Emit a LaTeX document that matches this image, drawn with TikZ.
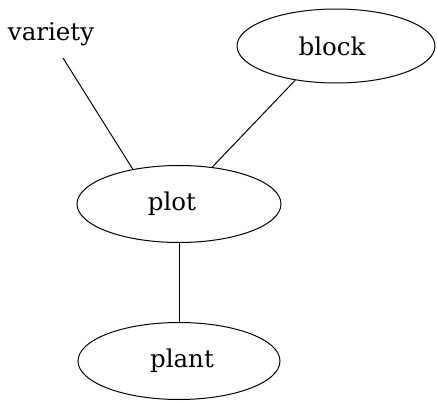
\documentclass[tikz,border=0pt]{standalone}
\usepackage{fontspec}
\setmainfont{DejaVu Serif}
\usetikzlibrary{shapes.geometric}
\begin{document}
\begin{tikzpicture}[x=1pt,y=-1pt,
  entity/.style={ellipse,draw,line width=1pt,inner sep=0pt,
    font=\fontsize{24.5}{28}\selectfont},
  link/.style={line width=1pt},
  label/.style={font=\fontsize{24.5}{28}\selectfont,inner sep=0pt}]
  \useasboundingbox (0,0) rectangle (437,401);
  % entities
  \node[entity,minimum width=198pt,minimum height=74pt] (block) at (336,46) {\hspace*{-8pt}block};
  \node[entity,minimum width=204pt,minimum height=77pt] (plot) at (179,204) {\hspace*{-14pt}plot};
  \node[entity,minimum width=202pt,minimum height=77pt] (plant) at (179,361) {\hspace*{6pt}plant};
  % free-standing attribute
  \node[label,anchor=base] (variety) at (51,41) {variety};
  \coordinate (vend) at (63,58);
  % connectors
  \draw[link] (vend) -- (plot.143);
  \draw[link] (block.220) -- (plot.48);
  \draw[link] (plot.south) -- (plant.north);
\end{tikzpicture}
\end{document}
